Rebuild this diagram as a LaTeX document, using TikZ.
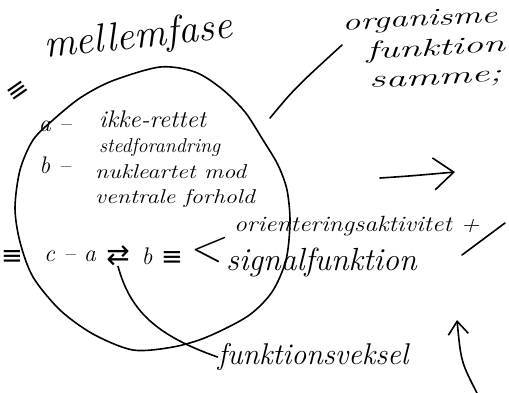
\documentclass[tikz,border=0pt]{standalone}
\usepackage{fontspec}
\newfontfamily\symfont{DejaVu Sans}
\usetikzlibrary{arrows.meta}
\begin{document}
\begin{tikzpicture}[x=1pt,y=-1pt,
  ink/.style={line width=1.6pt, line cap=round, line join=round},
  fs/.style={font=\fontsize{#1}{#1}\selectfont\itshape, inner sep=0pt},
  sy/.style={font=\fontsize{#1}{#1}\selectfont\symfont, inner sep=0pt}]
\useasboundingbox (0,0) rectangle (509,392);
\clip (0,0) rectangle (509,392);
% circle
\draw[ink] plot[smooth cycle, tension=0.5] coordinates {(53,120) (80,98) (112,81) (160,67) (195,72) (222,89) (245,112) (263,140) (278,165) (287,190) (290,222) (286,260) (272,292) (248,316) (207,337) (173,347) (133,350) (93,334) (60,310) (33,277) (20,242) (15,208) (20,170) (33,140)};
% texts
\node[fs=40, rotate=6] (mf) at (138,38) {mellemfase};
\node[fs=24, rotate=3, xscale=1.5, anchor=west] (org) at (342,25) {organisme};
\node[fs=24, rotate=3, xscale=1.65, anchor=west] (fun) at (366,53) {funktion};
\node[fs=24, rotate=3, xscale=1.7, anchor=west] (sam) at (369,85) {samme;};
\node[sy=26, rotate=35] (eqa) at (18,92) {≡};
\node[fs=24] (la) at (55,126) {a –};
\node[fs=24] (lb) at (55,165) {b –};
\node[fs=24, xscale=1.05, anchor=west] (l1) at (99,119) {ikke-rettet};
\node[fs=20, anchor=west] (l2) at (99,147) {stedforandring};
\node[fs=20, xscale=1.2, anchor=west] (l3) at (95,172) {nukleartet mod};
\node[fs=20, xscale=1.2, anchor=west] (l4) at (95,198) {ventrale forhold};
\node[sy=26] (eqb) at (12,258) {≡};
\node[fs=24] (ca) at (70,256) {c – a};
\node[sy=28] (ab) at (118,256) {⇄};
\node[fs=24] (b) at (147,256) {b};
\node[sy=26] (eqc) at (172,259) {≡};
\node[fs=46] (lt) at (206,250) {<};
\node[fs=22, xscale=1.16, anchor=west] (ori) at (234,226) {orienteringsaktivitet +};
\node[fs=32, anchor=west] (sig) at (226,262) {signalfunktion};
\node[fs=30] (fv) at (313,357) {funktionsveksel};
% connectors
\draw[ink] (ab.south) .. controls (130,310) and (155,335) .. (fv.west);
\coordinate (t1) at (270,118);
\coordinate (t2) at (342,45);
\draw[ink] (t1) .. controls (295,88) .. (t2);
\coordinate (s1) at (462,255);
\coordinate (s2) at (505,223);
\draw[ink] (s1) -- (s2);
\coordinate (r1) at (380,178);
\coordinate (r2) at (455,172);
\draw[ink, -{Straight Barb[length=20pt,width=32pt,line width=1.6pt]}] (r1) .. controls (410,176) .. (r2);
\coordinate (u1) at (478,395);
\coordinate (u2) at (457,320);
\draw[ink, -{Straight Barb[length=13pt,width=20pt,line width=1.6pt]}] (u1) .. controls (461,362) .. (u2);
\end{tikzpicture}
\end{document}
